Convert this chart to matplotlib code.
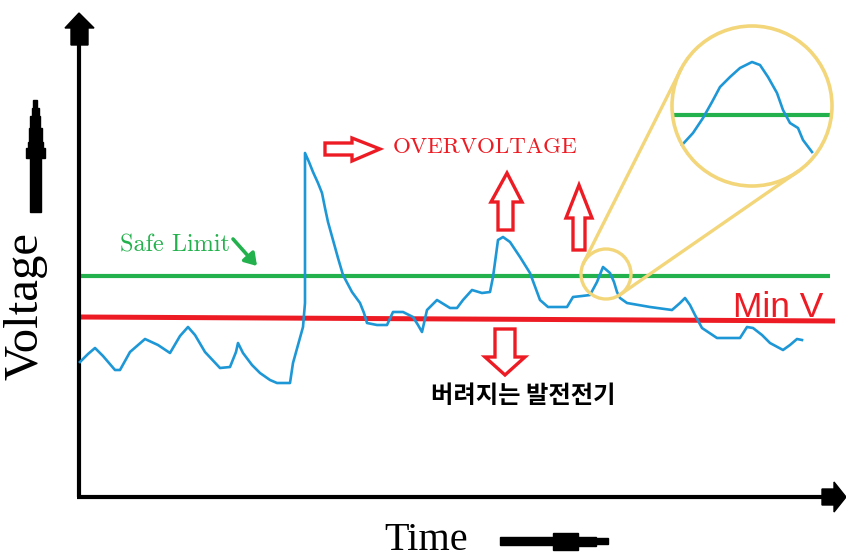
import numpy as np
import matplotlib
matplotlib.use("Agg")
import matplotlib.pyplot as plt
from matplotlib.patches import Polygon, Circle

# ---- data (pixel-like schematic coordinates: time → x, voltage → y, y grows downward) ----
trace_t = [80, 88, 95, 103, 115, 120, 130, 145, 158, 170, 180, 188, 195, 205, 220, 230, 236, 238,
           243, 252, 260, 270, 277, 290, 293, 298, 303, 305, 305,
           309, 313, 318, 322, 325, 328, 333, 338, 343, 352, 360, 364, 367, 377, 387, 393, 403, 413, 418, 422,
           427, 437, 450, 457, 463, 472, 482, 490, 493, 496, 498, 503, 510, 520, 530, 540, 548,
           567, 573, 582, 590, 597, 603, 610, 614, 617, 620, 627, 650, 672, 680, 685, 690, 695,
           702, 717, 740, 747, 753, 762, 770, 783, 790, 797, 802]
trace_v = [362, 354, 348, 356, 370, 370, 352, 339, 345, 353, 336, 327, 335, 352, 368, 367, 352, 343,
           353, 365, 373, 380, 383, 383, 363, 345, 327, 303, 153,
           162, 172, 183, 193, 208, 222, 240, 258, 275, 292, 303, 313, 323, 325, 325, 312, 312, 317, 325, 332,
           310, 300, 308, 308, 300, 290, 293, 292, 277, 255, 240, 237, 242, 257, 273, 300, 307,
           307, 297, 296, 295, 282, 267, 273, 282, 292, 298, 303, 307, 310, 303, 298, 305, 315,
           328, 338, 338, 327, 328, 335, 343, 350, 345, 339, 340]

zoom_t = [682, 693, 703, 712, 720, 730, 740, 752, 760, 768, 777, 783, 790, 798, 803, 812]
zoom_v = [145, 133, 118, 102, 87, 77, 68, 62, 65, 77, 93, 110, 123, 128, 140, 152]

safe_limit = [276, 276]
safe_limit_t = [80, 830]
min_v = [317, 321]
min_v_t = [80, 835]
zoom_limit = [115, 115]
zoom_limit_t = [672, 831]

BLUE = "#1e97d6"
GREEN = "#22b14c"
RED = "#ed1c24"
YELLOW = "#f3d67a"

fig = plt.figure(figsize=(8.46, 5.6), dpi=100)
ax = fig.add_axes([0, 0, 1, 1])
ax.set_xlim(0, 846)
ax.set_ylim(560, 0)
ax.axis("off")

# ---- axes with arrowheads ----
ax.plot([79, 79], [497, 40], color="black", lw=3.0, solid_capstyle="butt", zorder=3)
ax.plot([77, 826], [497, 497], color="black", lw=3.0, solid_capstyle="butt", zorder=3)
top_head = [(79, 13), (94, 28), (88, 28), (88, 45), (71, 45), (71, 28), (65, 28)]
ax.add_patch(Polygon(top_head, closed=True, color="black", zorder=4))
right_head = [(846, 497), (834, 482), (834, 489), (822, 489), (822, 505), (834, 505), (834, 512)]
ax.add_patch(Polygon(right_head, closed=True, color="black", zorder=4))

# ---- Voltage label & arrow ----
ax.text(25, 306, "Voltage", rotation=90, ha="center", va="center",
        family="Liberation Serif", fontsize=35, color="black")
cx = 35.3
steps = [(100, 2), (108, 3.5), (116, 5), (128, 6.3), (142, 7.5), (148, 9.5), (158, 5.7), (212, 5.7)]
left = []
right = []
for i, (y, hw) in enumerate(steps[:-1]):
    y2 = steps[i + 1][0]
    right += [(cx + hw, y), (cx + hw, y2)]
    left += [(cx - hw, y), (cx - hw, y2)]
ax.add_patch(Polygon(right + left[::-1], closed=True, color="black", zorder=4))

# ---- Time label & arrow ----
ax.text(426, 550, "Time", ha="center", va="baseline",
        family="Liberation Serif", fontsize=29, color="black")
cy = 541
tsteps = [(500, 4), (553, 8.5), (578, 4.5), (596, 3), (608, 3)]
top = []
bot = []
for i, (x, hw) in enumerate(tsteps[:-1]):
    x2 = tsteps[i + 1][0]
    top += [(x, cy - hw), (x2, cy - hw)]
    bot += [(x, cy + hw), (x2, cy + hw)]
ax.add_patch(Polygon(top + bot[::-1], closed=True, color="black", zorder=4))

# ---- reference lines ----
ax.plot(safe_limit_t, safe_limit, color=GREEN, lw=3.0, solid_capstyle="butt", zorder=2)
ax.plot(min_v_t, min_v, color=RED, lw=3.6, solid_capstyle="butt", zorder=2)

# ---- voltage trace ----
ax.plot(trace_t, trace_v, color=BLUE, lw=1.9, zorder=3)

# ---- texts ----
ax.text(120, 251, "Safe Limit", family="cmr10", fontsize=17.5, color=GREEN,
        ha="left", va="baseline")
ax.annotate("", xy=(257, 266), xytext=(233, 239),
            arrowprops=dict(arrowstyle="-|>,head_length=0.7,head_width=0.45",
                            color=GREEN, lw=2.6, shrinkA=0, shrinkB=0))
ax.text(393, 153, "OVERVOLTAGE", family="cmr10", fontsize=16.6, color=RED,
        ha="left", va="baseline")
ax.text(733, 317, "Min V", family="Liberation Sans", fontsize=25.5, color=RED,
        ha="left", va="baseline")
ax.text(523, 396, "버려지는 발전전기", family=["Noto Sans CJK KR", "DejaVu Sans"],
        fontsize=17.5, fontweight="bold", color="black", ha="center", va="center")

# ---- hollow red arrows ----
def hollow(pts):
    ax.add_patch(Polygon(pts, closed=True, facecolor="white", edgecolor=RED,
                         lw=2.4, joinstyle="miter", zorder=5))

hollow([(325, 143), (352, 143), (352, 138), (380, 149), (352, 161), (352, 155), (325, 155)])
hollow([(507, 173), (522, 202), (513, 202), (513, 230), (498, 230), (498, 202), (491, 202)])
hollow([(579, 185), (592, 218), (585, 218), (585, 250), (573, 250), (573, 218), (566, 218)])
hollow([(495, 329), (515, 329), (515, 357), (525, 357), (505, 375), (485, 357), (495, 357)])

# ---- magnifier ----
c1 = np.array([606.0, 274.0]); r1 = 25.0
c2 = np.array([752.0, 106.0]); r2 = 80.0
ax.add_patch(Circle(c1, r1, fill=False, edgecolor=YELLOW, lw=2.4, zorder=4))
ax.add_patch(Circle(c2, r2, fill=False, edgecolor=YELLOW, lw=2.6, zorder=4))
d = c2 - c1
dist = np.hypot(*d)
base = np.arctan2(d[1], d[0])
phi = np.arccos((r1 - r2) / dist)
for s in (1, -1):
    ang = base + s * phi
    n = np.array([np.cos(ang), np.sin(ang)])
    p1 = c1 + r1 * n
    p2 = c2 + r2 * n
    ax.plot([p1[0], p2[0]], [p1[1], p2[1]], color=YELLOW, lw=2.4, zorder=4)
ax.plot(zoom_limit_t, zoom_limit, color=GREEN, lw=3.0, solid_capstyle="butt", zorder=3)
ax.plot(zoom_t, zoom_v, color=BLUE, lw=1.9, zorder=3)

fig.savefig("out.png", dpi=100)
